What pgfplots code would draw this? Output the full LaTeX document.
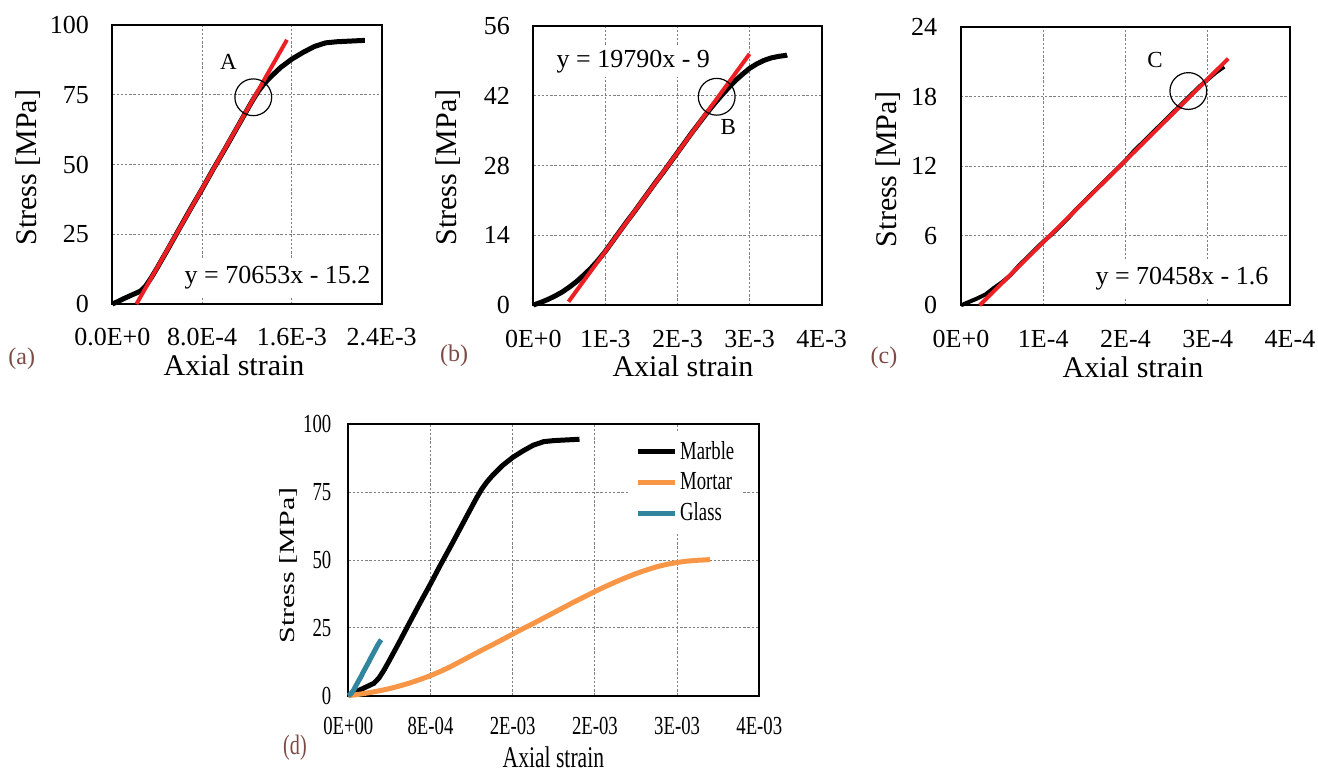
\documentclass[border=0pt]{standalone}
\usepackage{graphicx}
\usepackage{pgfplots}
\pgfplotsset{compat=1.18}
\usepackage{pgfplotstable}
\usepackage{fontspec}
\setmainfont{Liberation Serif}

\definecolor{fitred}{RGB}{236,32,36}
\definecolor{mortarc}{RGB}{247,150,70}
\definecolor{glassc}{RGB}{49,133,156}
\definecolor{tagbrown}{RGB}{125,75,70}
\newcommand{\tickfont}{\fontsize{13}{13}\selectfont}
\newcommand{\labfont}{\fontsize{15}{15}\selectfont}
\newcommand{\sq}[1]{\scalebox{0.72}[1]{#1}}

% strain [-], stress [MPa]
\pgfplotstableread{
x y
0 0
0.00005 0.9
0.0001 1.9
0.00015 2.8
0.0002 3.7
0.00025 4.6
0.0003 6.6
0.00035 9.6
0.0004 13.0
0.0005 20.0
0.0006 27.2
0.0007 34.3
0.0008 41.2
0.0009 48.4
0.001 55.3
0.0011 62.4
0.0012 69.5
0.00125 73.0
0.0013 76.2
0.00135 78.8
0.0014 81.0
0.0015 84.8
0.0016 87.8
0.0017 90.2
0.0018 92.3
0.0019 93.6
0.002 94.0
0.0021 94.2
0.0022 94.4
0.00225 94.5
}\marble

\pgfplotstableread{
x y
0 0
0.0001 0.5
0.0002 1.1
0.0003 1.8
0.0004 2.6
0.0005 3.6
0.0006 4.7
0.0007 6.0
0.0008 7.4
0.0009 9.0
0.001 10.8
0.0011 12.8
0.0012 14.8
0.0013 16.8
0.0014 18.7
0.0015 20.7
0.0016 22.7
0.0017 24.7
0.0018 26.6
0.0019 28.6
0.002 30.6
0.0021 32.6
0.0022 34.6
0.0023 36.5
0.0024 38.4
0.0025 40.2
0.0026 41.9
0.0027 43.5
0.0028 45.0
0.0029 46.3
0.003 47.5
0.0031 48.4
0.0032 49.1
0.0033 49.6
0.0034 49.9
0.0035 50.1
0.00352 50.2
}\mortar

\pgfplotstableread{
x y
0 0
0.00001 0.3
0.00002 0.6
0.00003 0.95
0.00004 1.5
0.00005 2.0
0.00006 2.6
0.00007 3.4
0.00008 4.1
0.00009 4.8
0.0001 5.5
0.00011 6.1
0.00012 6.8
0.00013 7.5
0.00014 8.3
0.00015 9.0
0.00016 9.7
0.00017 10.4
0.00018 11.1
0.00019 11.8
0.0002 12.5
0.00021 13.3
0.00022 14.0
0.00023 14.7
0.00024 15.4
0.00025 16.1
0.00026 16.8
0.00027 17.5
0.00028 18.2
0.00029 18.9
0.0003 19.5
0.00031 20.1
0.00032 20.6
}\glass

\pgfplotsset{
  panel/.style={
    scale only axis, anchor=south west,
    axis line style={line width=1pt},
    grid=major,
    major grid style={draw=gray, line width=0.5pt, dash pattern=on 1.2pt off 0.9pt},
    tick style={draw=none},
    scaled x ticks=false, scaled y ticks=false,
    /pgf/number format/assume math mode=true,
    tick label style={font=\tickfont},
    label style={font=\labfont},
    xlabel={Axial strain}, ylabel={Stress [MPa]},
    clip=false,
  },
  ylabgap/.style={yticklabel style={anchor=east, inner sep=0pt, xshift=-#1}},
  xlabgap/.style={xticklabel style={anchor=north, inner sep=0pt, yshift=-#1}},
}

\begin{document}
\begin{tikzpicture}
\path[use as bounding box] (0,0) rectangle (659pt,-386.5pt);

% (a) marble
\begin{axis}[panel, ylabgap=11.5pt, xlabgap=12pt,
  at={(56.15pt,-152pt)}, width=134.7pt, height=139.5pt,
  xmin=0, xmax=0.0024, ymin=0, ymax=100,
  xtick={0,0.0008,0.0016,0.0024}, xticklabels={0.0E+0,8.0E-4,1.6E-3,2.4E-3},
  ytick={0,25,50,75,100},
  xlabel style={at={(axis description cs:0.452,-0.219)}, anchor=center},
  ylabel style={at={(axis description cs:-0.313,0.489)}, anchor=center}]
\addplot[black, line width=2.5pt] table {\marble};
\addplot[fitred, line width=2pt] coordinates {(0.000215,0) (0.001556,94.7)};
\addplot[only marks, mark=o, mark size=9.2pt, black, line width=0.6pt] coordinates {(0.001256,74.1)};
\node[font=\fontsize{11.5}{11.5}\selectfont] at (axis cs:0.001034,86.8) {A};
\node[fill=white, inner sep=4pt, font=\tickfont] at (axis cs:0.001472,9.3) {y = 70653x - 15.2};
\end{axis}

% (b) mortar
\begin{axis}[panel, ylabgap=11.5pt, xlabgap=12.5pt,
  at={(266.65pt,-152.5pt)}, width=144.2pt, height=139.5pt,
  xmin=0, xmax=0.004, ymin=0, ymax=56,
  xtick={0,0.001,0.002,0.003,0.004}, xticklabels={0E+0,1E-3,2E-3,3E-3,4E-3},
  ytick={0,14,28,42,56},
  xlabel style={at={(axis description cs:0.519,-0.221)}, anchor=center},
  ylabel style={at={(axis description cs:-0.295,0.493)}, anchor=center}]
\addplot[black, line width=2.5pt] table {\mortar};
\addplot[fitred, line width=2pt] coordinates {(0.000488,0.66) (0.003,50.4)};
\addplot[only marks, mark=o, mark size=9.2pt, black, line width=0.6pt] coordinates {(0.002544,41.8)};
\node[font=\fontsize{11.5}{11.5}\selectfont] at (axis cs:0.002705,35.8) {B};
\node[fill=white, inner sep=2pt, font=\tickfont] at (axis cs:0.001387,48.8) {y = 19790x - 9};
\end{axis}

% (c) glass
\begin{axis}[panel, ylabgap=11.8pt, xlabgap=12.3pt,
  at={(480.5pt,-152.65pt)}, width=164.5pt, height=139pt,
  xmin=0, xmax=0.0004, ymin=0, ymax=24,
  xtick={0,0.0001,0.0002,0.0003,0.0004}, xticklabels={0E+0,1E-4,2E-4,3E-4,4E-4},
  ytick={0,6,12,18,24},
  xlabel style={at={(axis description cs:0.523,-0.221)}, anchor=center},
  ylabel style={at={(axis description cs:-0.2225,0.49)}, anchor=center}]
\addplot[black, line width=2pt] table {\glass};
\addplot[fitred, line width=2pt] coordinates {(0.0000227,0) (0.000325,21.3)};
\addplot[only marks, mark=o, mark size=9.2pt, black, line width=0.6pt] coordinates {(0.0002764,18.5)};
\node[font=\fontsize{11.5}{11.5}\selectfont] at (axis cs:0.0002359,21.2) {C};
\node[fill=white, inner sep=4pt, font=\tickfont] at (axis cs:0.0002687,2.33) {y = 70458x - 1.6};
\end{axis}

% (d) comparison
\begin{axis}[panel, ylabgap=8.3pt, xlabgap=10.5pt,
  at={(174.15pt,-347.85pt)}, width=205.5pt, height=135.7pt,
  xmin=0, xmax=0.004, ymin=0, ymax=100,
  xtick={0,0.0008,0.0016,0.0024,0.0032,0.004},
  xticklabels={\sq{0E+00},\sq{8E-04},\sq{2E-03},\sq{2E-03},\sq{3E-03},\sq{4E-03}},
  ytick={0,25,50,75,100}, yticklabels={\sq{0},\sq{25},\sq{50},\sq{75},\sq{100}},
  xlabel={\sq{Axial strain}}, ylabel={\scalebox{1}[0.72]{Stress [MPa]}},
  xlabel style={at={(axis description cs:0.499,-0.228)}, anchor=center, inner sep=0pt},
  ylabel style={at={(axis description cs:-0.146,0.48)}, anchor=center},
  legend style={at={(axis description cs:0.684,0.969)}, anchor=north west,
    draw=none, fill=white, font=\tickfont, row sep=1.1pt,
    inner xsep=3pt, inner ysep=2pt, nodes={inner xsep=1.2pt}},
  legend cell align=left,
  legend image code/.code={\draw[#1] (0pt,0pt) -- (18.5pt,0pt);}]
\addplot[black, line width=2.5pt] table {\marble};
\addlegendentry{\sq{Marble}}
\addplot[mortarc, line width=2.5pt] table {\mortar};
\addlegendentry{\sq{Mortar}}
\addplot[glassc, line width=2.5pt] table {\glass};
\addlegendentry{\sq{Glass}}
\end{axis}

\node[text=tagbrown, font=\fontsize{12}{12}\selectfont] at (10.85pt,-179.2pt) {(a)};
\node[text=tagbrown, font=\fontsize{12}{12}\selectfont] at (227pt,-178pt) {(b)};
\node[text=tagbrown, font=\fontsize{12}{12}\selectfont] at (442pt,-178.75pt) {(c)};
\node[text=tagbrown, font=\fontsize{14}{14}\selectfont] at (147.5pt,-373.75pt) {\sq{(d)}};
\end{tikzpicture}
\end{document}
